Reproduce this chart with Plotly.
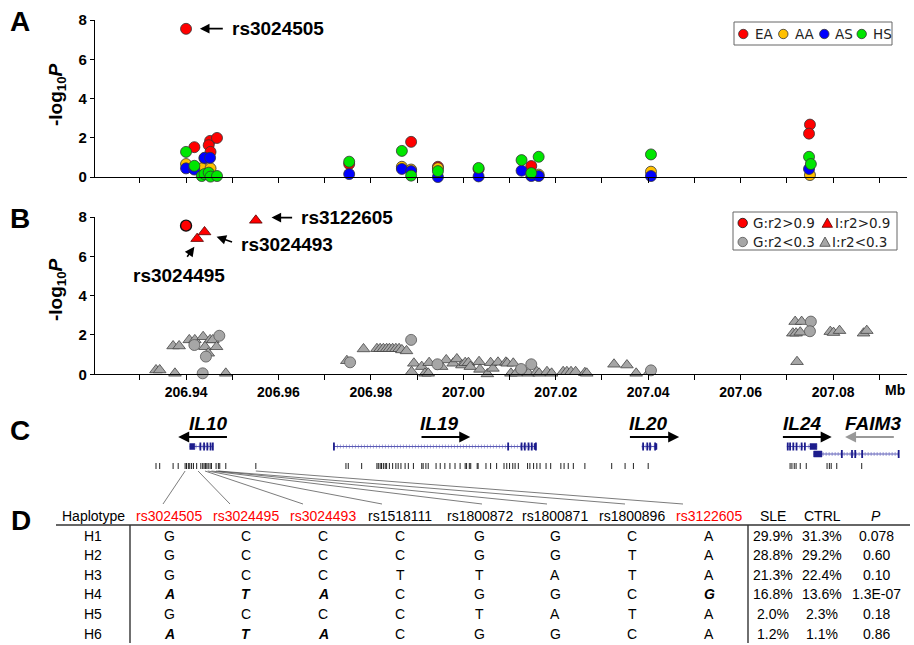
import plotly.graph_objects as go

# ======================= DATA =======================
# Panel A : -log10 P per population (x in Mb)
ea_x = [206.9400, 206.9418, 206.9452, 206.9449, 206.9467, 206.9453, 206.9440, 206.9753,
        206.9887, 206.9945, 207.0033, 207.0147, 207.0750, 207.0748]
ea_y = [7.55, 1.52, 1.84, 1.62, 1.99, 1.28, 0.95, 0.66, 1.79, 0.52, 0.40, 0.56, 2.67, 2.21]
aa_x = [206.9400, 206.9434, 206.9453, 206.9867, 206.9887, 206.9945, 207.0163, 207.0406, 207.0750]
aa_y = [0.66, 0.44, 0.44, 0.52, 0.38, 0.45, 0.12, 0.27, 0.10]
as_x = [206.9400, 206.9418, 206.9440, 206.9452, 206.9753, 206.9867, 206.9887, 206.9945,
        207.0033, 207.0126, 207.0147, 207.0163, 207.0406, 207.0748]
as_y = [0.44, 0.38, 0.98, 0.98, 0.15, 0.41, 0.30, 0.00, 0.03, 0.32, 0.05, 0.05, 0.05, 0.41]
hs_x = [206.9400, 206.9418, 206.9434, 206.9440, 206.9449, 206.9453, 206.9467, 206.9753,
        206.9867, 206.9887, 206.9945, 207.0033, 207.0126, 207.0147, 207.0163, 207.0406,
        207.0748, 207.0752]
hs_y = [1.28, 0.57, 0.05, 0.15, 0.22, 0.02, 0.05, 0.78, 1.33, 0.07, 0.30, 0.46, 0.86, 0.20,
        1.03, 1.15, 1.03, 0.66]

# Panel B : genotyped (G) / imputed (I) SNPs
g_hi_x = [206.9400]
g_hi_y = [7.56]
i_hi_x = [206.9424, 206.9440, 206.9551]
i_hi_y = [6.90, 7.24, 7.83]
g_lo_x = [206.9418, 206.9443, 206.9436, 206.9472, 206.9755, 206.9887, 206.9944, 207.0125,
          207.0147, 207.0406, 207.0752, 207.0750]
g_lo_y = [1.49, 0.90, 0.05, 1.96, 0.61, 1.75, 0.51, 0.27, 0.51, 0.20, 2.68, 2.19]
i_lo_x = [206.9335, 206.9343, 206.9372, 206.9385, 206.9407, 206.9419, 206.9437, 206.9452,
          206.9458, 206.9441, 206.9466, 206.9448, 206.9376, 206.9486, 206.9748, 206.9784,
          206.9813, 206.9820, 206.9827, 206.9834, 206.9840, 206.9847, 206.9854, 206.9861,
          206.9867, 206.9877, 206.9893, 206.9888, 206.9910, 206.9917, 206.9924, 206.9926,
          206.9953, 206.9963, 206.9978, 206.9986, 206.9997, 207.0004, 207.0011, 207.0015,
          207.0034, 207.0036, 207.0052, 207.0059, 207.0064, 207.0075, 207.0092, 207.0095,
          207.0108, 207.0103, 207.0114, 207.0141, 207.0159, 207.0164, 207.0181, 207.0191,
          207.0216, 207.0224, 207.0233, 207.0243, 207.0263, 207.0267, 207.0326, 207.0354,
          207.0374, 207.0403, 207.0718, 207.0732, 207.0713, 207.0720, 207.0729, 207.0722,
          207.0794, 207.0801, 207.0814, 207.0866, 207.0873]
i_lo_y = [0.22, 0.22, 1.44, 1.44, 1.75, 1.75, 1.91, 1.75,
          1.75, 1.40, 1.40, 1.07, 0.05, 0.05, 0.69, 1.29,
          1.30, 1.30, 1.30, 1.30, 1.30, 1.30, 1.30, 1.30,
          1.24, 1.19, 0.56, 0.13, 0.39, 0.05, 0.05, 0.59,
          0.39, 0.73, 0.56, 0.78, 0.47, 0.59, 0.59, 0.39,
          0.64, 0.25, 0.02, 0.59, 0.30, 0.61, 0.61, 0.56,
          0.56, 0.05, 0.05, 0.05, 0.13, 0.05, 0.13, 0.05,
          0.13, 0.13, 0.13, 0.13, 0.08, 0.05, 0.51, 0.47,
          0.05, 0.13, 2.68, 2.68, 2.09, 2.09, 2.14, 0.64,
          2.17, 2.12, 2.22, 2.09, 2.22]

# Panel C : genes (Mb)
gene_names = ["IL10", "IL19", "IL20", "IL24", "FAIM3"]
gene_start = [206.9408, 206.9720, 207.0386, 207.0700, 207.0758]
gene_end = [206.9459, 207.0157, 207.0419, 207.0765, 207.0942]
gene_exons = [[206.9431, 206.9439, 206.9446, 206.9453, 206.9458],
              [206.9720, 207.0097, 207.0126, 207.0133, 207.0141, 207.0148, 207.0157],
              [207.0389, 207.0398, 207.0404, 207.0415],
              [207.0702, 207.0707, 207.0714, 207.0721, 207.0732, 207.0739],
              [207.0819, 207.0841, 207.0848, 207.0863, 207.0942]]
gene_thick = [(206.9408, 206.9419), (207.0153, 207.0157), (207.0416, 207.0419),
              (207.0750, 207.0765), (207.0758, 207.0776)]
arrow_tail = [206.9495, 206.9903, 207.0354, 207.0685, 207.0938]
arrow_head = [206.9383, 207.0015, 207.0467, 207.0797, 207.0826]
gene_label_x = [206.9448, 206.9947, 207.0400, 207.0732, 207.0887]

# SNP positions (Mb)
snp_pos = [206.9335, 206.9343, 206.9372, 206.9383, 206.9398, 206.9401, 206.9405, 206.9408,
           206.9412, 206.9416, 206.9423, 206.9432, 206.9436, 206.9439, 206.9442, 206.9445,
           206.9448, 206.9452, 206.9455, 206.9465, 206.9470, 206.9473, 206.9486, 206.9551,
           206.9746, 206.9751, 206.9780, 206.9813, 206.9816, 206.9820, 206.9823, 206.9827,
           206.9831, 206.9834, 206.9840, 206.9847, 206.9854, 206.9859, 206.9865, 206.9874,
           206.9881, 206.9892, 206.9910, 206.9913, 206.9919, 206.9924, 206.9941, 206.9950,
           206.9960, 206.9971, 206.9982, 206.9993, 207.0004, 207.0007, 207.0013, 207.0016,
           207.0030, 207.0032, 207.0049, 207.0059, 207.0072, 207.0088, 207.0094, 207.0100,
           207.0107, 207.0112, 207.0119, 207.0139, 207.0144, 207.0152, 207.0159, 207.0166,
           207.0179, 207.0189, 207.0211, 207.0218, 207.0227, 207.0238, 207.0263, 207.0321,
           207.0350, 207.0368, 207.0400, 207.0707, 207.0711, 207.0716, 207.0720, 207.0729,
           207.0742, 207.0787, 207.0792, 207.0796, 207.0808, 207.0862]

# Panel D : haplotype table
hap_snps = ["rs3024505", "rs3024495", "rs3024493", "rs1518111", "rs1800872",
            "rs1800871", "rs1800896", "rs3122605"]
hap_snp_pos = [206.9398, 206.9426, 206.9441, 206.9447, 206.9455, 206.9465, 206.9470, 206.9551]
hap_snp_highlight = [True, True, True, False, False, False, False, True]
risk_alleles = ["A", "T", "A", None, None, None, None, "G"]
haplotypes = ["H1", "H2", "H3", "H4", "H5", "H6"]
alleles = [["G", "C", "C", "C", "G", "G", "C", "A"],
           ["G", "C", "C", "C", "G", "G", "T", "A"],
           ["G", "C", "C", "T", "T", "A", "T", "A"],
           ["A", "T", "A", "C", "G", "G", "C", "G"],
           ["G", "C", "C", "C", "T", "A", "T", "A"],
           ["A", "T", "A", "C", "G", "G", "C", "A"]]
sle_freq = ["29.9%", "28.8%", "21.3%", "16.8%", "2.0%", "1.2%"]
ctrl_freq = ["31.3%", "29.2%", "22.4%", "13.6%", "2.3%", "1.1%"]
p_values = ["0.078", "0.60", "0.10", "1.3E-07", "0.18", "0.86"]

x_tick_vals = [206.93, 206.94, 206.95, 206.96, 206.97, 206.98, 206.99, 207.00,
               207.01, 207.02, 207.03, 207.04, 207.05, 207.06, 207.07, 207.08, 207.09]
x_tick_text = [" ", "206.94", " ", "206.96", " ", "206.98", " ", "207.00",
               " ", "207.02", " ", "207.04", " ", "207.06", " ", "207.08", " "]
y_tick_vals = [0, 2, 4, 6, 8]

# ======================= LAYOUT HELPERS =======================
W, H = 914, 645
FONT = "Liberation Sans, Arial, sans-serif"
LEG_FONT = "DejaVu Sans, sans-serif"
X_LEFT_PX, X_RIGHT_PX = 95, 907
X_RANGE = [206.9203, 207.0960]


def px_x(px):
    return px / W


def px_y(py):
    return 1 - py / H


def px2mb(px):
    return X_RANGE[0] + (px - X_LEFT_PX) / (X_RIGHT_PX - X_LEFT_PX) * (X_RANGE[1] - X_RANGE[0])


RED = "#ff0000"
ORANGE = "#ffc000"
BLUE = "#0000ff"
GREEN = "#00e600"
GRAY = "#a6a6a6"
NAVY = "#1c1c8c"

fig = go.Figure()


def circ(color, edge="#333333", size=11, ew=0.8):
    return dict(symbol="circle", size=size, color=color, line=dict(color=edge, width=ew))


# Panel A
for xs, ys, c, name in [(ea_x, ea_y, RED, "EA"), (aa_x, aa_y, ORANGE, "AA"),
                        (as_x, as_y, BLUE, "AS"), (hs_x, hs_y, GREEN, "HS")]:
    fig.add_trace(go.Scatter(x=xs, y=ys, mode="markers", name=name, marker=circ(c),
                             cliponaxis=False, xaxis="x", yaxis="y", showlegend=False))

# Panel B
fig.add_trace(go.Scatter(x=i_lo_x, y=i_lo_y, mode="markers", cliponaxis=False,
                         marker=dict(symbol="triangle-up", size=11, color=GRAY,
                                     line=dict(color="#444444", width=0.8)),
                         xaxis="x2", yaxis="y2", showlegend=False))
fig.add_trace(go.Scatter(x=g_lo_x, y=g_lo_y, mode="markers", cliponaxis=False,
                         marker=circ(GRAY, "#555555", 11, 0.8),
                         xaxis="x2", yaxis="y2", showlegend=False))
fig.add_trace(go.Scatter(x=g_hi_x, y=g_hi_y, mode="markers", cliponaxis=False,
                         marker=circ(RED, "#111111", 11, 1.4),
                         xaxis="x2", yaxis="y2", showlegend=False))
fig.add_trace(go.Scatter(x=i_hi_x, y=i_hi_y, mode="markers", cliponaxis=False,
                         marker=dict(symbol="triangle-up", size=11, color=RED,
                                     line=dict(color="#550000", width=0.8)),
                         xaxis="x2", yaxis="y2", showlegend=False))

# Panel C (axis x3/y3; y3 levels)
LV_LABEL, LV_ARROW, LV_GENE, LV_GENE2 = 8.7, 7.3, 6.35, 5.6
LV_SNP_TOP, LV_SNP_BOT = 4.7, 4.1
LV_LINK_TOP, LV_LINK_BOT = 3.9, 0.6
gene_level = [LV_GENE, LV_GENE, LV_GENE, LV_GENE, LV_GENE2]

shapes = []
annotations = []

for i, g in enumerate(gene_names):
    lv = gene_level[i]
    fig.add_trace(go.Scatter(x=[gene_start[i], gene_end[i]], y=[lv, lv], mode="lines",
                             line=dict(color="#a8a8dc", width=4, dash="1px,2px"),
                             xaxis="x3", yaxis="y3", showlegend=False, hoverinfo="skip"))
    fig.add_trace(go.Scatter(x=[gene_start[i], gene_end[i]], y=[lv, lv], mode="lines",
                             line=dict(color="#5a5ab4", width=1),
                             xaxis="x3", yaxis="y3", showlegend=False, hoverinfo="skip"))
    for e in gene_exons[i]:
        shapes.append(dict(type="line", xref="x3", yref="y3", x0=e, x1=e, y0=lv - 0.4, y1=lv + 0.4,
                           line=dict(color=NAVY, width=1.8)))
    t0, t1 = gene_thick[i]
    shapes.append(dict(type="rect", xref="x3", yref="y3", x0=t0, x1=t1, y0=lv - 0.3, y1=lv + 0.3,
                       fillcolor=NAVY, line=dict(color=NAVY, width=0.5)))
    annotations.append(dict(xref="x3", yref="y3", axref="x3", ayref="y3",
                            x=arrow_head[i], y=LV_ARROW, ax=arrow_tail[i], ay=LV_ARROW,
                            text=" ", showarrow=True, arrowhead=2, arrowsize=1.1, arrowwidth=2,
                            arrowcolor="#999999" if g == "FAIM3" else "black"))
    annotations.append(dict(xref="x3", yref="y3", x=gene_label_x[i], y=LV_LABEL,
                            text="<b><i>%s</i></b>" % g, showarrow=False,
                            xanchor="center", yanchor="middle",
                            font=dict(family=FONT, size=19, color="black")))

# SNP ticks
sx, sy = [], []
for p in snp_pos:
    sx += [p, p, None]
    sy += [LV_SNP_BOT, LV_SNP_TOP, None]
fig.add_trace(go.Scatter(x=sx, y=sy, mode="lines", line=dict(color="#222222", width=1),
                         xaxis="x3", yaxis="y3", showlegend=False, hoverinfo="skip"))

# Table geometry (pixels)
col_px = [169, 246, 323, 400, 480, 555, 632, 709]
link_end_px = [163, 230, 303, 382, 482, 547, 625, 683]
hap_label_px = 93
sle_px, ctrl_px, p_px = 773, 822, 876
header_py = 516
row_py = [535.5, 555, 574.5, 594, 613.5, 633.5]

lx, ly = [], []
for p, e in zip(hap_snp_pos, link_end_px):
    lx += [p, px2mb(e), None]
    ly += [LV_LINK_TOP, LV_LINK_BOT, None]
fig.add_trace(go.Scatter(x=lx, y=ly, mode="lines", line=dict(color="#444444", width=0.7),
                         xaxis="x3", yaxis="y3", showlegend=False, hoverinfo="skip"))


def tab_text(px, py, text, color="black"):
    annotations.append(dict(xref="paper", yref="paper", x=px_x(px), y=px_y(py), text=text,
                            showarrow=False, xanchor="center", yanchor="middle",
                            font=dict(family=FONT, size=14, color=color)))


tab_text(hap_label_px, header_py, "Haplotype")
for j, s in enumerate(hap_snps):
    tab_text(col_px[j], header_py, s, RED if hap_snp_highlight[j] else "black")
tab_text(sle_px, header_py, "SLE")
tab_text(ctrl_px, header_py, "CTRL")
tab_text(p_px, header_py, "<i>P</i>")
for r, h in enumerate(haplotypes):
    tab_text(hap_label_px, row_py[r], h)
    for j, a in enumerate(alleles[r]):
        txt = "<b><i>%s</i></b>" % a if risk_alleles[j] == a else a
        tab_text(col_px[j], row_py[r], txt)
    tab_text(sle_px, row_py[r], sle_freq[r])
    tab_text(ctrl_px, row_py[r], ctrl_freq[r])
    tab_text(p_px, row_py[r], p_values[r])

shapes.append(dict(type="line", xref="paper", yref="paper", x0=px_x(56), x1=px_x(910),
                   y0=px_y(525), y1=px_y(525), line=dict(color="#333333", width=1.6)))
for vx in (130, 748):
    shapes.append(dict(type="line", xref="paper", yref="paper", x0=px_x(vx), x1=px_x(vx),
                       y0=px_y(525), y1=px_y(643), line=dict(color="#333333", width=1.4)))

for letter, (lx_, ly_) in {"A": (20, 22), "B": (20, 218), "C": (20, 430), "D": (21, 520)}.items():
    annotations.append(dict(xref="paper", yref="paper", x=px_x(lx_), y=px_y(ly_), text="<b>%s</b>" % letter,
                            showarrow=False, xanchor="center", yanchor="middle",
                            font=dict(family=FONT, size=28, color="black")))

for ty in (95, 290):
    annotations.append(dict(xref="paper", yref="paper", x=px_x(57), y=px_y(ty),
                            text="<b>-log<sub>10</sub><i>P</i></b>", textangle=-90,
                            showarrow=False, xanchor="center", yanchor="middle",
                            font=dict(family=FONT, size=19, color="black")))

annotations.append(dict(xref="paper", yref="paper", x=px_x(895), y=px_y(390), text="<b>Mb</b>",
                        showarrow=False, xanchor="center", yanchor="middle",
                        font=dict(family=FONT, size=14, color="black")))

BF = dict(family=FONT, size=19, color="black")


def callout(xr, yr, hx, hy, tx, ty, label, lx_, ly_, anchor="left"):
    annotations.append(dict(xref=xr, yref=yr, axref=xr, ayref=yr, x=hx, y=hy, ax=tx, ay=ty,
                            text=" ", showarrow=True, arrowhead=2, arrowsize=1.2, arrowwidth=1.6,
                            arrowcolor="black"))
    annotations.append(dict(xref=xr, yref=yr, x=lx_, y=ly_, text="<b>%s</b>" % label,
                            showarrow=False, xanchor=anchor, yanchor="middle", font=BF))


callout("x", "y", 206.9430, 7.56, 206.9486, 7.56, "rs3024505", 206.9495, 7.56)
callout("x2", "y2", 206.9585, 7.97, 206.9636, 7.97, "rs3122605", 206.9644, 7.97)
callout("x2", "y2", 206.9466, 7.00, 206.9506, 6.67, "rs3024493", 206.9515, 6.58)
callout("x2", "y2", 206.9418, 6.49, 206.9396, 5.77, "rs3024495", 206.9385, 5.00, "center")

LF = dict(family=LEG_FONT, size=13.5, color="#222222")


def box(x0, y0, x1, y1):
    shapes.append(dict(type="rect", xref="paper", yref="paper", x0=px_x(x0), x1=px_x(x1),
                       y0=px_y(y0), y1=px_y(y1), line=dict(color="#666666", width=1),
                       fillcolor="white", layer="above"))


def leg_circle(cx, cy, color, edge="#333333", r=4.7):
    shapes.append(dict(type="circle", xref="paper", yref="paper", x0=px_x(cx - r), x1=px_x(cx + r),
                       y0=px_y(cy - r), y1=px_y(cy + r), fillcolor=color,
                       line=dict(color=edge, width=0.8), layer="above"))


def leg_tri(cx, cy, color, edge="#333333"):
    pts = [(cx - 5.2, cy + 4.3), (cx + 5.2, cy + 4.3), (cx, cy - 5)]
    path = "M %f,%f L %f,%f L %f,%f Z" % tuple(v for p in pts for v in (px_x(p[0]), px_y(p[1])))
    shapes.append(dict(type="path", xref="paper", yref="paper", path=path, fillcolor=color,
                       line=dict(color=edge, width=0.8), layer="above"))


def leg_text(x, y, t):
    annotations.append(dict(xref="paper", yref="paper", x=px_x(x), y=px_y(y), text=t,
                            showarrow=False, xanchor="left", yanchor="middle", font=LF))


box(734, 22, 892, 45)
for cx, tx, c, t in [(743.3, 753, RED, "EA"), (783.3, 792.5, ORANGE, "AA"),
                     (824.3, 832.5, BLUE, "AS"), (861.7, 870.5, GREEN, "HS")]:
    leg_circle(cx, 34, c)
    leg_text(tx, 34, t)

box(733, 212, 897, 250)
leg_circle(742.7, 223, RED, "#111111")
leg_text(751, 223, "G:r2>0.9")
leg_tri(827.3, 223, RED, "#550000")
leg_text(832.5, 223, "I:r2>0.9")
leg_circle(742.7, 242, GRAY, "#555555")
leg_text(751, 242, "G:r2<0.3")
leg_tri(825, 242, GRAY, "#444444")
leg_text(830, 242, "I:r2<0.3")

# ======================= AXES =======================
xdom = [px_x(X_LEFT_PX), px_x(X_RIGHT_PX)]
common_x = dict(range=X_RANGE, domain=xdom, showline=True, linecolor="black", linewidth=1.3,
                ticks="outside", ticklen=5, tickwidth=1.2, tickcolor="black",
                tickvals=x_tick_vals, showgrid=False, zeroline=False, fixedrange=True)
common_y = dict(range=[0, 8], showline=True, linecolor="black", linewidth=1.3,
                ticks="outside", ticklen=4, tickwidth=1.2, tickcolor="black",
                tickvals=y_tick_vals, showgrid=False, zeroline=False, fixedrange=True,
                tickfont=dict(family=FONT, size=15, color="black", weight="bold"))

fig.update_layout(
    width=W, height=H, margin=dict(l=0, r=0, t=0, b=0, autoexpand=False),
    paper_bgcolor="white", plot_bgcolor="rgba(0,0,0,0)",
    showlegend=False,
    xaxis=dict(**common_x, anchor="y", showticklabels=False),
    yaxis=dict(**common_y, anchor="x", domain=[px_y(177), px_y(20)]),
    xaxis2=dict(**common_x, anchor="y2", ticktext=x_tick_text,
                tickfont=dict(family=FONT, size=14, color="black", weight="bold")),
    yaxis2=dict(**common_y, anchor="x2", domain=[px_y(374.3), px_y(217)]),
    xaxis3=dict(range=X_RANGE, domain=xdom, visible=False, anchor="y3", fixedrange=True),
    yaxis3=dict(range=[0, 11], domain=[px_y(510), px_y(400)], visible=False, anchor="x3",
                fixedrange=True),
    shapes=shapes,
    annotations=annotations,
)

fig.write_html("out.html",
               config={"displayModeBar": False},
               post_script="document.body.style.margin='0';document.body.style.padding='0';"
                           "document.body.style.overflow='hidden';")
